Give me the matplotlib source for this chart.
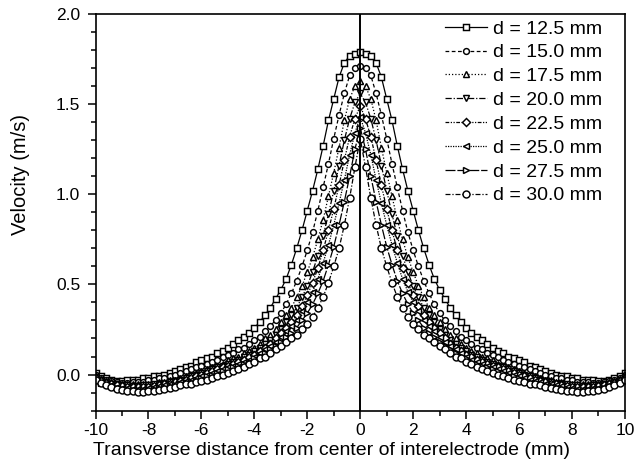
import numpy as np
import matplotlib
matplotlib.use("Agg")
import matplotlib.pyplot as plt
from matplotlib.ticker import MultipleLocator

plt.rcParams['font.family'] = ['Liberation Sans', 'DejaVu Sans']

labels = ["d = 12.5 mm", "d = 15.0 mm", "d = 17.5 mm", "d = 20.0 mm",
          "d = 22.5 mm", "d = 25.0 mm", "d = 27.5 mm", "d = 30.0 mm"]

v125 = [0.01,-0.01,-0.02,-0.03,-0.035,-0.035,-0.03,-0.03,-0.03,-0.02,-0.02,-0.01,-0.01,0.00,0.01,0.02,0.03,0.04,0.05,0.07,
        0.08,0.09,0.10,0.12,0.13,0.15,0.17,0.19,0.21,0.23,0.26,0.29,0.33,0.37,0.42,0.47,0.53,0.61,0.70,0.80,
        0.91,1.02,1.14,1.27,1.41,1.53,1.65,1.73,1.77,1.78,
        1.79,
        1.78,1.77,1.73,1.65,1.53,1.41,1.27,1.14,1.02,0.91,0.80,0.70,0.61,0.53,0.47,0.42,0.37,0.33,0.29,0.26,
        0.23,0.21,0.19,0.17,0.15,0.13,0.12,0.10,0.09,0.08,0.07,0.05,0.04,0.03,0.02,0.01,0.00,-0.01,-0.01,-0.02,
        -0.02,-0.03,-0.03,-0.03,-0.035,-0.035,-0.03,-0.02,-0.01,0.01]

v150 = [0.00,-0.02,-0.03,-0.035,-0.04,-0.045,-0.045,-0.04,-0.04,-0.04,-0.03,-0.03,-0.02,-0.02,-0.01,0.00,0.01,0.02,0.03,0.04,
        0.05,0.06,0.07,0.08,0.10,0.11,0.12,0.14,0.15,0.17,0.19,0.21,0.24,0.27,0.30,0.34,0.39,0.45,0.52,0.60,
        0.69,0.79,0.91,1.04,1.17,1.31,1.44,1.56,1.66,1.70,
        1.71,
        1.70,1.66,1.56,1.44,1.31,1.17,1.04,0.91,0.79,0.69,0.60,0.52,0.45,0.39,0.34,0.30,0.27,0.24,0.21,0.19,
        0.17,0.15,0.14,0.12,0.11,0.10,0.08,0.07,0.06,0.05,0.04,0.03,0.02,0.01,0.00,-0.01,-0.02,-0.02,-0.03,-0.03,
        -0.04,-0.04,-0.04,-0.045,-0.045,-0.04,-0.035,-0.03,-0.02,0.00]

v175 = [-0.01,-0.025,-0.035,-0.04,-0.05,-0.05,-0.055,-0.055,-0.055,-0.055,-0.05,-0.05,-0.04,-0.04,-0.03,-0.03,-0.02,-0.01,0.00,0.01,
        0.02,0.03,0.04,0.05,0.06,0.08,0.09,0.10,0.12,0.13,0.15,0.17,0.20,0.22,0.25,0.29,0.33,0.37,0.43,0.49,
        0.57,0.65,0.75,0.86,0.99,1.12,1.26,1.41,1.53,1.60,
        1.63,
        1.60,1.53,1.41,1.26,1.12,0.99,0.86,0.75,0.65,0.57,0.49,0.43,0.37,0.33,0.29,0.25,0.22,0.20,0.17,0.15,
        0.13,0.12,0.10,0.09,0.08,0.06,0.05,0.04,0.03,0.02,0.01,0.00,-0.01,-0.02,-0.03,-0.03,-0.04,-0.04,-0.05,-0.05,
        -0.055,-0.055,-0.055,-0.055,-0.05,-0.05,-0.04,-0.035,-0.025,-0.01]

v200 = [-0.015,-0.03,-0.04,-0.05,-0.055,-0.06,-0.06,-0.065,-0.065,-0.06,-0.06,-0.055,-0.05,-0.05,-0.04,-0.035,-0.03,-0.02,-0.01,0.00,
        0.01,0.02,0.03,0.04,0.05,0.06,0.07,0.08,0.10,0.11,0.13,0.15,0.17,0.19,0.22,0.25,0.29,0.33,0.37,0.43,
        0.49,0.57,0.66,0.77,0.89,1.02,1.16,1.30,1.42,1.51,
        1.56,
        1.51,1.42,1.30,1.16,1.02,0.89,0.77,0.66,0.57,0.49,0.43,0.37,0.33,0.29,0.25,0.22,0.19,0.17,0.15,0.13,
        0.11,0.10,0.08,0.07,0.06,0.05,0.04,0.03,0.02,0.01,0.00,-0.01,-0.02,-0.03,-0.035,-0.04,-0.05,-0.05,-0.055,-0.06,
        -0.06,-0.065,-0.065,-0.06,-0.06,-0.055,-0.05,-0.04,-0.03,-0.015]

v225 = [-0.02,-0.035,-0.045,-0.055,-0.06,-0.065,-0.07,-0.07,-0.07,-0.07,-0.07,-0.065,-0.06,-0.055,-0.05,-0.04,-0.035,-0.03,-0.02,-0.01,
        0.00,0.01,0.02,0.03,0.04,0.05,0.06,0.07,0.08,0.10,0.11,0.13,0.15,0.17,0.20,0.23,0.26,0.29,0.33,0.38,
        0.44,0.51,0.59,0.69,0.80,0.92,1.05,1.19,1.32,1.42,
        1.49,
        1.42,1.32,1.19,1.05,0.92,0.80,0.69,0.59,0.51,0.44,0.38,0.33,0.29,0.26,0.23,0.20,0.17,0.15,0.13,0.11,
        0.10,0.08,0.07,0.06,0.05,0.04,0.03,0.02,0.01,0.00,-0.01,-0.02,-0.03,-0.035,-0.04,-0.05,-0.055,-0.06,-0.065,-0.07,
        -0.07,-0.07,-0.07,-0.07,-0.065,-0.06,-0.055,-0.045,-0.035,-0.02]

v250 = [-0.025,-0.04,-0.05,-0.06,-0.07,-0.075,-0.075,-0.08,-0.08,-0.08,-0.075,-0.07,-0.065,-0.06,-0.055,-0.05,-0.04,-0.035,-0.03,-0.02,
        -0.01,0.00,0.01,0.02,0.03,0.04,0.05,0.06,0.07,0.08,0.10,0.12,0.14,0.16,0.18,0.21,0.24,0.27,0.30,0.35,
        0.40,0.46,0.53,0.62,0.72,0.83,0.95,1.08,1.22,1.34,
        1.43,
        1.34,1.22,1.08,0.95,0.83,0.72,0.62,0.53,0.46,0.40,0.35,0.30,0.27,0.24,0.21,0.18,0.16,0.14,0.12,0.10,
        0.08,0.07,0.06,0.05,0.04,0.03,0.02,0.01,0.00,-0.01,-0.02,-0.03,-0.035,-0.04,-0.05,-0.055,-0.06,-0.065,-0.07,-0.075,
        -0.08,-0.08,-0.08,-0.075,-0.075,-0.07,-0.06,-0.05,-0.04,-0.025]

v275 = [-0.03,-0.045,-0.055,-0.065,-0.075,-0.08,-0.08,-0.085,-0.085,-0.085,-0.085,-0.08,-0.075,-0.07,-0.065,-0.06,-0.05,-0.045,-0.04,-0.03,
        -0.02,-0.01,0.00,0.01,0.02,0.03,0.04,0.05,0.06,0.07,0.09,0.10,0.12,0.14,0.16,0.18,0.21,0.23,0.26,0.30,
        0.34,0.39,0.45,0.52,0.61,0.71,0.83,0.96,1.10,1.25,
        1.37,
        1.25,1.10,0.96,0.83,0.71,0.61,0.52,0.45,0.39,0.34,0.30,0.26,0.23,0.21,0.18,0.16,0.14,0.12,0.10,0.09,
        0.07,0.06,0.05,0.04,0.03,0.02,0.01,0.00,-0.01,-0.02,-0.03,-0.04,-0.045,-0.05,-0.06,-0.065,-0.07,-0.075,-0.08,-0.085,
        -0.085,-0.085,-0.085,-0.08,-0.08,-0.075,-0.065,-0.055,-0.045,-0.03]

v300 = [-0.03,-0.045,-0.06,-0.07,-0.08,-0.085,-0.09,-0.09,-0.095,-0.095,-0.09,-0.09,-0.085,-0.08,-0.075,-0.07,-0.06,-0.055,-0.05,-0.04,
        -0.035,-0.03,-0.02,-0.01,0.00,0.01,0.02,0.03,0.04,0.06,0.07,0.09,0.10,0.12,0.14,0.16,0.18,0.20,0.22,0.25,
        0.28,0.32,0.37,0.43,0.51,0.60,0.70,0.83,0.98,1.15,
        1.31,
        1.15,0.98,0.83,0.70,0.60,0.51,0.43,0.37,0.32,0.28,0.25,0.22,0.20,0.18,0.16,0.14,0.12,0.10,0.09,0.07,
        0.06,0.04,0.03,0.02,0.01,0.00,-0.01,-0.02,-0.03,-0.035,-0.04,-0.05,-0.055,-0.06,-0.07,-0.075,-0.08,-0.085,-0.09,-0.09,
        -0.095,-0.095,-0.09,-0.09,-0.085,-0.08,-0.07,-0.06,-0.045,-0.03]

series = [v125, v150, v175, v200, v225, v250, v275, v300]
x = np.linspace(-10, 10, 101)

markers = ['s', 'o', '^', 'v', 'D', '<', '>', 'o']
msizes = [4.6, 4.2, 4.8, 4.8, 4.2, 4.8, 4.8, 5.0]
styles = ['-', (0, (3, 2)), (0, (1, 1.6)), (0, (5, 1.5, 1, 1.5)),
          (0, (3, 1.2, 1, 1.2, 1, 1.2)), (0, (1, 1)), (0, (8, 1.5)), (0, (4, 1.5, 1, 1.5))]

fig = plt.figure(figsize=(6.37, 4.73), dpi=100)
ax = fig.add_axes([0.150, 0.132, 0.831, 0.838])

for vals, lab, mk, ms, ls in zip(series, labels, markers, msizes, styles):
    assert len(vals) == len(x), lab
    ax.plot(x, vals, linestyle=ls, color='black', lw=0.9, marker=mk, ms=ms,
            mfc='white', mec='black', mew=1.05, label=lab)

ax.axvline(0, color='black', lw=1.4, zorder=5)

ax.set_xlim(-10, 10)
ax.set_ylim(-0.2, 2.0)
ax.xaxis.set_minor_locator(MultipleLocator(1))
ax.yaxis.set_minor_locator(MultipleLocator(0.1))
ax.set_yticks([0.0, 0.5, 1.0, 1.5, 2.0])
ax.set_yticklabels(['0.0', '0.5', '1.0', '1.5', '2.0'])
ax.set_xticks(range(-10, 11, 2))
ax.set_xticklabels([str(v) for v in range(-10, 11, 2)])

ax.tick_params(axis='both', which='major', direction='out', length=6, width=1.1,
               labelsize=12.5, top=False, right=False)
ax.tick_params(axis='y', which='major', pad=5)
ax.tick_params(axis='x', which='major', pad=3)
ax.tick_params(axis='both', which='minor', direction='out', length=3.5, width=1.1,
               top=False, right=False)
for sp in ax.spines.values():
    sp.set_linewidth(1.2)

ax.set_xlabel('Transverse distance from center of interelectrode (mm)', fontsize=14)
ax.set_ylabel('Velocity (m/s)', fontsize=14.5)
ax.xaxis.set_label_coords(0.445, -0.080)
ax.yaxis.set_label_coords(-0.124, 0.596)

leg = ax.legend(loc='upper right', bbox_to_anchor=(0.972, 1.005), frameon=False, fontsize=14,
                numpoints=1, handlelength=2.2, handletextpad=0.3, labelspacing=0.32,
                borderaxespad=0.0)

fig.savefig('out.png', dpi=100)
